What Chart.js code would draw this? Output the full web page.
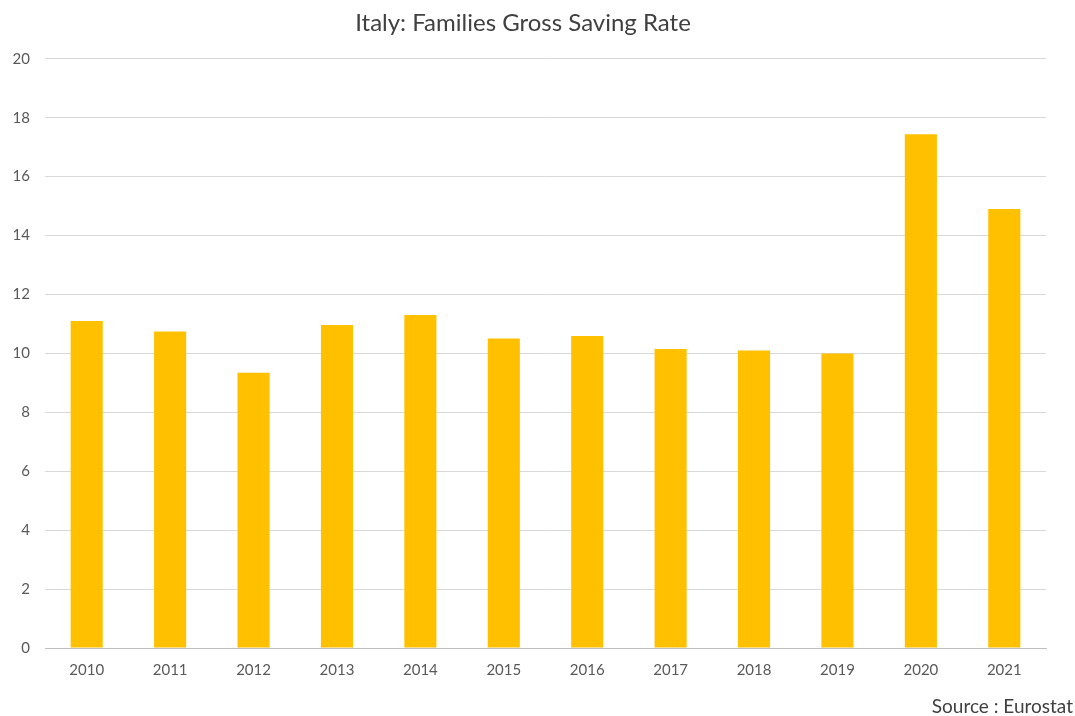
<!DOCTYPE html>
<html>
<head>
<meta charset="utf-8">
<script src="https://cdn.jsdelivr.net/npm/chart.js@4/dist/chart.umd.min.js"></script>
<style>
  html, body { margin: 0; padding: 0; background: #fff; }
  #wrap { width: 1075px; height: 716px; }
</style>
</head>
<body>
<div id="wrap"><canvas id="savingChart"></canvas></div>
<script>
const years = ['2010', '2011', '2012', '2013', '2014', '2015', '2016', '2017', '2018', '2019', '2020', '2021'];
const savingRate = [11.1, 10.74, 9.34, 10.96, 11.3, 10.51, 10.59, 10.15, 10.1, 10.0, 17.44, 14.9];
const yTicks = [0, 2, 4, 6, 8, 10, 12, 14, 16, 18, 20];
const sourceNote = 'Source : Eurostat';

const fontFamily = 'Lato, "Open Sans", sans-serif';

// draws the source note in the bottom right corner
const sourcePlugin = {
    id: 'sourceNote',
    afterDraw(chart) {
        const c = chart.ctx;
        c.save();
        c.font = '19px ' + fontFamily;
        c.fillStyle = '#404040';
        c.textAlign = 'right';
        c.textBaseline = 'middle';
        c.fillText(sourceNote, chart.width - 2, 707);
        c.restore();
    }
};

const ctx = document.getElementById('savingChart').getContext('2d');
new Chart(ctx, {
    type: 'bar',
    data: {
        labels: years,
        datasets: [{
            data: savingRate,
            backgroundColor: '#ffc000',
            borderWidth: 0,
            categoryPercentage: 1,
            barPercentage: 0.385
        }]
    },
    plugins: [sourcePlugin],
    options: {
        responsive: true,
        maintainAspectRatio: false,
        animation: false,
        layout: { padding: { left: 0, right: 29, top: 0, bottom: 0 } },
        plugins: {
            legend: { display: false },
            tooltip: { enabled: false },
            title: {
                display: true,
                text: 'Italy: Families Gross Saving Rate',
                color: '#404040',
                font: { family: fontFamily, size: 24, weight: 'normal' },
                padding: { top: 9, bottom: 21 }
            }
        },
        scales: {
            x: {
                grid: { display: false, drawTicks: false },
                border: { display: true, color: '#bfbfbf', width: 1 },
                ticks: {
                    color: '#595959',
                    font: { family: fontFamily, size: 15 },
                    padding: 13,
                    maxRotation: 0
                },
                afterFit: function(axis) { axis.height = 68; }
            },
            y: {
                min: 0,
                max: 20,
                afterBuildTicks: function(axis) {
                    axis.ticks = yTicks.map(v => ({ value: v }));
                },
                grid: { color: '#d9d9d9', drawTicks: false },
                border: { display: false },
                ticks: {
                    color: '#595959',
                    font: { family: fontFamily, size: 15 },
                    padding: 15
                },
                afterFit: function(axis) { axis.width = 45; }
            }
        }
    }
});
</script>
</body>
</html>
